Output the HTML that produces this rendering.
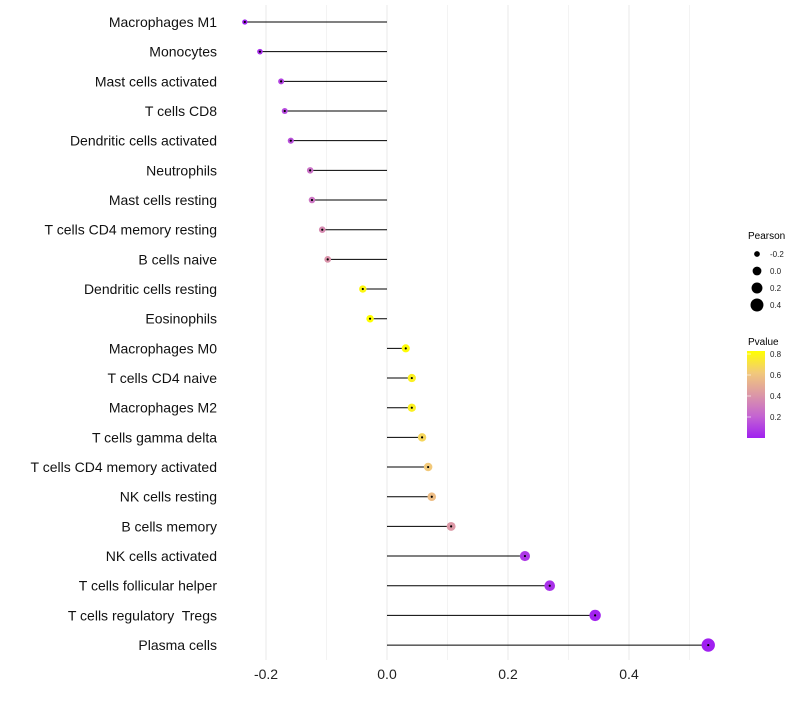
<!DOCTYPE html>
<html><head><meta charset="utf-8"><style>
body{margin:0;background:#fff;font-family:"Liberation Sans",sans-serif;}
svg text{font-family:"Liberation Sans",sans-serif;}
#ylabels text{white-space:pre;}
</style></head><body>
<svg id="chart" width="800" height="700" xmlns="http://www.w3.org/2000/svg">
<g id="grid"></g>
<g id="marks"></g>
<g id="ylabels"></g>
<g id="xticks"></g>
<g id="legend">
<text x="748" y="239" font-size="10">Pearson</text>
<g id="sizeleg"></g>
<text x="748" y="345" font-size="10">Pvalue</text>
<defs><linearGradient id="pg" x1="0" y1="1" x2="0" y2="0">
<stop offset="0" stop-color="#A020F0"/><stop offset="0.25" stop-color="#C464D2"/><stop offset="0.5" stop-color="#DC98A6"/><stop offset="0.75" stop-color="#F2C97A"/><stop offset="1" stop-color="#FFFF00"/></linearGradient></defs>
<rect x="747" y="351" width="18" height="87" fill="url(#pg)"/>
<g id="colorleg"></g>
</g>
</svg>
<script>
const categories=["Macrophages M1","Monocytes","Mast cells activated","T cells CD8","Dendritic cells activated","Neutrophils","Mast cells resting","T cells CD4 memory resting","B cells naive","Dendritic cells resting","Eosinophils","Macrophages M0","T cells CD4 naive","Macrophages M2","T cells gamma delta","T cells CD4 memory activated","NK cells resting","B cells memory","NK cells activated","T cells follicular helper","T cells regulatory  Tregs","Plasma cells"];
const pearson=[-0.235,-0.21,-0.175,-0.169,-0.159,-0.127,-0.124,-0.107,-0.098,-0.040,-0.028,0.031,0.041,0.041,0.058,0.068,0.074,0.106,0.228,0.269,0.344,0.531];
const pvalue=[0.0,0.04,0.1,0.12,0.14,0.25,0.27,0.35,0.38,0.78,0.82,0.8,0.75,0.75,0.65,0.6,0.55,0.4,0.07,0.05,0.01,0.0];
const xTicks=[-0.2,0.0,0.2,0.4];
const xMinor=[-0.1,0.1,0.3,0.5];
const sizeKeys=[-0.2,0.0,0.2,0.4];
const colorKeys=[0.2,0.4,0.6,0.8];
const NS="http://www.w3.org/2000/svg";
const x=v=>387+v*605;
const y=i=>22+i*29.67;
const r=v=>3.9+v*5.2;
function lerp(a,b,t){return a+(b-a)*t;}
const stops=[[0,[160,32,240]],[0.2,[196,100,210]],[0.4,[220,152,166]],[0.6,[242,201,122]],[0.81,[255,255,0]]];
function col(p){p=Math.max(0,Math.min(0.81,p));for(let k=0;k<stops.length-1;k++){const[a,ca]=stops[k],[b,cb]=stops[k+1];if(p<=b){const t=(p-a)/(b-a);return`rgb(${ca.map((c,j)=>Math.round(lerp(c,cb[j],t))).join(',')})`;}}return'rgb(255,255,0)';}
const cy=p=>438-p*105;
function mk(tag,attrs,parent){const e=document.createElementNS(NS,tag);for(const k in attrs)e.setAttribute(k,attrs[k]);document.getElementById(parent).appendChild(e);return e;}
xTicks.concat(xMinor).forEach(v=>{const l=mk('line',{x1:x(v),x2:x(v),y1:5,y2:660,stroke:'#ebebeb','stroke-width':xTicks.includes(v)?1.1:0.6},'grid');

});
xTicks.forEach(v=>{const t=mk('text',{x:x(v),y:679,'font-size':14,'text-anchor':'middle',fill:'#222'},'xticks');t.textContent=v.toFixed(1);

});
categories.forEach((c,i)=>{
const t=mk('text',{x:217,y:y(i)+5,'font-size':14,'text-anchor':'end',fill:'#111'},'ylabels');t.textContent=c;


const l=mk('line',{x1:x(0),x2:x(pearson[i]),y1:y(i),y2:y(i),stroke:'#000','stroke-width':1},'marks');


const d=mk('circle',{cx:x(pearson[i]),cy:y(i),r:r(pearson[i]),fill:col(pvalue[i])},'marks');


const cd=mk('circle',{cx:x(pearson[i]),cy:y(i),r:1.1,fill:'#000'},'marks');


});
sizeKeys.forEach((v,i)=>{const yy=254+i*17;
const c=mk('circle',{cx:757,cy:yy,r:r(v)+(v<0?0:0.5),fill:'#000'},'sizeleg');


const t=mk('text',{x:770,y:yy+3,'font-size':8,fill:'#222'},'sizeleg');t.textContent=v.toFixed(1);

});
colorKeys.forEach(v=>{const t=mk('text',{x:770,y:cy(v)+3,'font-size':8,fill:'#222'},'colorleg');t.textContent=v.toFixed(1);


const l=mk('line',{x1:747,x2:751,y1:cy(v),y2:cy(v),stroke:'#fff','stroke-width':0.6},'colorleg');

});
</script>
</body></html>
